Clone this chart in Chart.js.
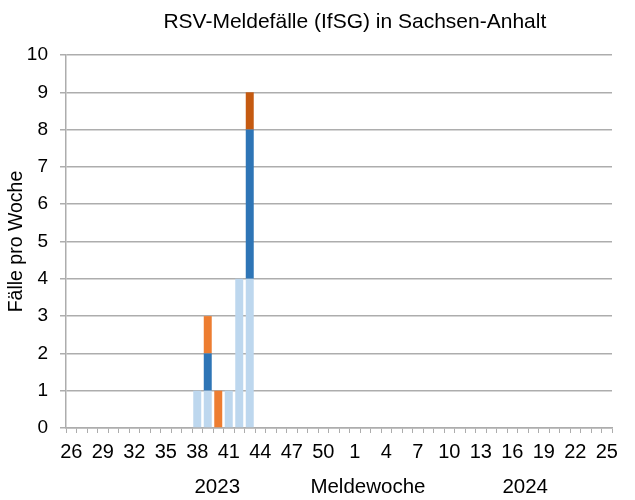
<!DOCTYPE html>
<html>
<head>
<meta charset="utf-8">
<script src="https://cdn.jsdelivr.net/npm/chart.js@4.4.1/dist/chart.umd.min.js"></script>
<style>
html,body{margin:0;padding:0;background:#fff;}
#wrap{width:635px;height:500px;}
</style>
</head>
<body>
<div id="wrap"><canvas id="c" width="635" height="500"></canvas></div>
<script>
// Weeks 26..52 of 2023, then 1..25 of 2024
const weeks = [26,27,28,29,30,31,32,33,34,35,36,37,38,39,40,41,42,43,44,45,46,47,48,49,50,51,52,
               1,2,3,4,5,6,7,8,9,10,11,12,13,14,15,16,17,18,19,20,21,22,23,24,25];
const seriesLightBlue = [0,0,0,0,0,0,0,0,0,0,0,0,1,1,0,1,4,4,0,0,0,0,0,0,0,0,0, 0,0,0,0,0,0,0,0,0,0,0,0,0,0,0,0,0,0,0,0,0,0,0,0,0];
const seriesBlue      = [0,0,0,0,0,0,0,0,0,0,0,0,0,1,0,0,0,4,0,0,0,0,0,0,0,0,0, 0,0,0,0,0,0,0,0,0,0,0,0,0,0,0,0,0,0,0,0,0,0,0,0,0];
const seriesOrange    = [0,0,0,0,0,0,0,0,0,0,0,0,0,1,1,0,0,0,0,0,0,0,0,0,0,0,0, 0,0,0,0,0,0,0,0,0,0,0,0,0,0,0,0,0,0,0,0,0,0,0,0,0];
const seriesDarkOrange= [0,0,0,0,0,0,0,0,0,0,0,0,0,0,0,0,0,1,0,0,0,0,0,0,0,0,0, 0,0,0,0,0,0,0,0,0,0,0,0,0,0,0,0,0,0,0,0,0,0,0,0,0];
const yTicks = [0,1,2,3,4,5,6,7,8,9,10];
const titleText = 'RSV-Meldefälle (IfSG) in Sachsen-Anhalt';
const yTitle = 'Fälle pro Woche';
const bottomLabels = [{text:'2023', f:0.277}, {text:'Meldewoche', f:0.553}, {text:'2024', f:0.841}];

const FONT = "'Liberation Sans', Arial, sans-serif";
const GRID = '#ADADAD';

const extraText = {
  id: 'extraText',
  afterDraw(chart) {
    const ctx = chart.ctx, a = chart.chartArea;
    ctx.save();
    ctx.fillStyle = '#000';
    ctx.textAlign = 'center';
    ctx.textBaseline = 'middle';
    ctx.font = '21px ' + FONT;
    ctx.fillText(titleText, a.left + 0.529 * (a.right - a.left), 22);
    ctx.font = '20.5px ' + FONT;
    bottomLabels.forEach(l => {
      ctx.fillText(l.text, a.left + l.f * (a.right - a.left), 487);
    });
    ctx.restore();
  }
};

const mk = (label, data, color) => ({label, data, backgroundColor: color, borderWidth: 0,
  barPercentage: 0.76, categoryPercentage: 1.0});

new Chart(document.getElementById('c'), {
  type: 'bar',
  data: {
    labels: weeks.map(String),
    datasets: [
      mk('A', seriesLightBlue, '#BDD7EE'),
      mk('B', seriesBlue, '#2E75B6'),
      mk('C', seriesOrange, '#ED7D31'),
      mk('D', seriesDarkOrange, '#C55A11')
    ]
  },
  options: {
    responsive: false,
    animation: false,
    devicePixelRatio: 1,
    layout: {padding: {left: 0, right: 23, top: 55, bottom: 0}},
    plugins: {legend: {display: false}, title: {display: false}, tooltip: {enabled: false}},
    scales: {
      x: {
        stacked: true,
        offset: true,
        grid: {display: true, drawOnChartArea: false, drawTicks: true, tickLength: 5, color: GRID, lineWidth: 1, offset: true},
        border: {display: true, color: GRID, width: 1.5},
        ticks: {
          autoSkip: false, maxRotation: 0, minRotation: 0, padding: 7,
          color: '#000', font: {family: FONT, size: 20},
          callback: function(v, i) { return i % 3 === 0 ? String(weeks[i]) : ''; }
        },
        afterFit: s => { s.height = 72; }
      },
      y: {
        stacked: true,
        min: 0, max: 10,
        afterBuildTicks: s => { s.ticks = yTicks.map(v => ({value: v})); },
        grid: {color: GRID, lineWidth: 1.5, tickLength: 6, drawTicks: true},
        border: {display: true, color: GRID, width: 1.5},
        ticks: {color: '#000', font: {family: FONT, size: 19}, padding: 12},
        title: {display: true, text: yTitle, color: '#000', font: {family: FONT, size: 19.5}, padding: {top: 5, bottom: 0}},
        afterFit: s => { s.width = 66; }
      }
    }
  },
  plugins: [extraText]
});
</script>
</body>
</html>
